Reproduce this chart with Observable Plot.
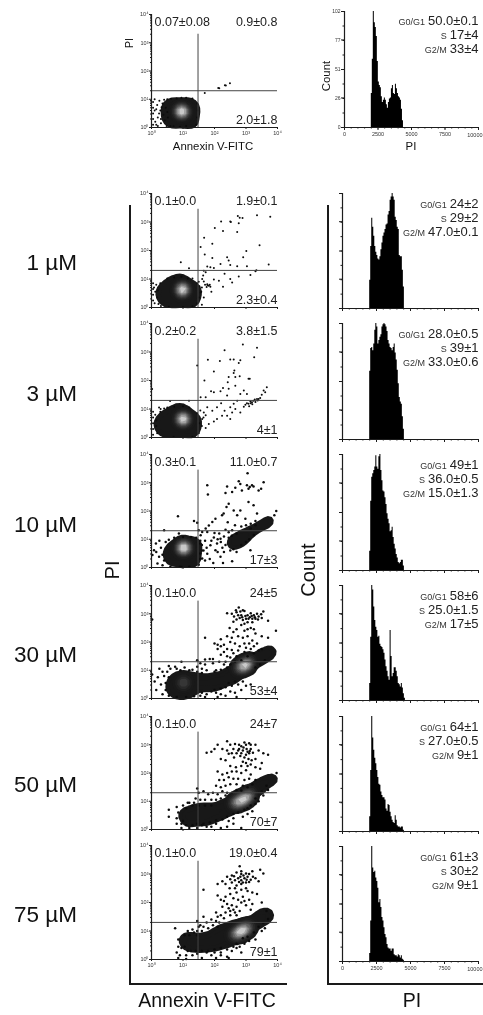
<!DOCTYPE html>
<html><head><meta charset="utf-8">
<script src="https://cdn.jsdelivr.net/npm/d3@7"></script>
<script src="https://cdn.jsdelivr.net/npm/@observablehq/plot@0.6"></script>
<style>
html,body{margin:0;padding:0;background:#fff;overflow:hidden}
#page{position:relative;width:483px;height:1015px;overflow:hidden;font-family:"Liberation Sans",Arial,sans-serif;color:#111;filter:blur(.4px)}
#page svg{position:absolute;background:transparent;overflow:hidden}
.lab{position:absolute;white-space:nowrap;line-height:1}
.brk{position:absolute;border-left:2px solid #1a1a1a;border-bottom:2px solid #1a1a1a}
</style></head><body><div id="page"></div>
<script>
// Dose labels and quadrant percentages (upper-left, upper-right, lower-right)
const doses=["1 µM","3 µM","10 µM","30 µM","50 µM","75 µM"];
const quadUL=["0.07±0.08","0.1±0.0","0.2±0.2","0.3±0.1","0.1±0.0","0.1±0.0","0.1±0.0"];
const quadUR=["0.9±0.8","1.9±0.1","3.8±1.5","11.0±0.7","24±5","24±7","19.0±0.4"];
const quadLR=["2.0±1.8","2.3±0.4","4±1","17±3","53±4","70±7","79±1"];
// Cell-cycle percentages
const phaseG1=["50.0±0.1","24±2","28.0±0.5","49±1","58±6","64±1","61±3"];
const phaseS=["17±4","29±2","39±1","36.0±0.5","25.0±1.5","27.0±0.5","30±2"];
const phaseG2=["33±4","47.0±0.1","33.0±0.6","15.0±1.3","17±5","9±1","9±1"];
// Tick labels
const logTicks=[1,10,100,1000,10000];
const logLabels=["10⁰","10¹","10²","10³","10⁴"];
const piTicks=[0,2500,5000,7500];
const piLast=10000;
const countTicks=[0,26,51,77,102];
const gateAnnexin=30, gatePI=20;
// DNA histograms: counts in successive PI channels, first channel and channel width
const histStart=2000, histWidth=75;
const hist0=[30,60,102,92,88,80,58,40,37,35,27,22,24,26,24,20,17,22,25,26,34,37,30,29,38,34,30,27,26,24,16,6,0];
const hist1=[25,55,80,72,64,55,50,47,44,43,46,52,58,64,67,70,74,75,83,86,96,99,102,99,96,81,78,72,70,47,46,46,34,19,0];
const hist2=[60,80,81,78,84,96,102,99,84,87,90,92,99,101,102,101,99,95,87,84,81,80,78,81,84,76,70,61,49,37,33,31,20,9,0];
const hist3=[17,61,82,85,88,91,101,91,89,100,102,88,79,70,69,64,58,50,45,41,34,35,38,29,23,19,14,11,7,6,7,9,9,4,0];
const hist4=[15,56,102,98,83,71,65,62,56,57,50,48,47,45,42,36,30,26,21,18,62,39,21,24,29,29,26,21,15,14,12,15,11,6,2];
const hist5=[13,54,102,83,72,65,60,54,48,42,41,35,32,30,30,28,20,18,24,23,17,13,10,8,7,14,10,5,4,4,3,4,4,1,0];
const hist6=[7,36,102,83,79,80,74,71,65,52,55,48,39,36,30,24,21,15,12,11,11,9,11,11,6,5,5,4,6,5,3,5,2,1,0];
const hists=[hist0,hist1,hist2,hist3,hist4,hist5,hist6];
// Flow-cytometry events, as [log10 Annexin V-FITC, log10 PI].
// "cloud": dense population outline; "core": brightest part of it; "dots": single events.
const cloud0=[[.45,.25],[.45,.55],[.45,.8],[.6,.2],[.6,.5],[.6,.8],[.78,.15],[.78,.4],[.78,.65],[.78,.88],[1,.15],[1,.4],[1,.65],[1,.9],[1.22,.15],[1.22,.4],[1.22,.65],[1.22,.88],[1.38,.2],[1.38,.5],[1.38,.75]];
const core0=[[.88,.55],[.95,.6],[1.05,.55],[.95,.5],[1,.62],[.92,.62]];
const dots0=[[1.69,1.22],[2.12,1.4],[2.15,1.39],[2.33,1.5],[2.36,1.49],[2.49,1.57],[.05,.1],[.05,.3],[.05,.5],[.05,.7],[.05,.9],[.1,1],[.1,.6],[.12,.2],[.18,.8],[.2,.35],[.25,.95],[.28,.6],[.3,.15],[.35,.85],[.38,.45],[.4,.98],[.42,.25],[.45,.7],[.5,1],[.48,.05],[.2,.05],[.62,1.02],[.8,1.03],[1.1,1.05],[1.3,1.03],[.7,.04],[1.1,.05],[.32,.72],[.24,.5],[.15,.1],[.52,.35],[.5,.55],[.3,.3],[.15,.65],[1.45,.35],[1.47,.6],[1.45,.85],[1.42,.1],[.95,1.05],[.6,.05],[.9,.03]];
const cloud1=[[.4,.12],[.65,.12],[.9,.12],[1.15,.12],[1.35,.15],[.3,.35],[.5,.35],[.72,.35],[.95,.35],[1.18,.35],[1.38,.35],[.25,.6],[.45,.6],[.68,.6],[.9,.6],[1.12,.6],[1.35,.6],[1.45,.62],[.42,.8],[.62,.82],[.85,.82],[1.08,.82],[1.28,.8],[.68,.95],[.88,.97],[1.05,.95]];
const core1=[[.9,.6],[.98,.66],[1.06,.6],[.98,.55],[1.02,.68],[.94,.66]];
const dots1=[[.93,1.59],[1.19,1.38],[1.56,2.12],[1.67,2.45],[1.93,2.24],[1.69,1.86],[1.93,1.74],[2.01,2.79],[2.21,3.02],[2.27,2.68],[2.5,3.02],[2.52,3],[2.74,3.21],[2.8,3.15],[2.89,3.14],[2.72,2.65],[2.77,2.96],[3.35,3.24],[3.77,3.18],[3.43,2.18],[3.01,1.98],[2.91,1.76],[2.4,1.76],[2.45,1.65],[2.5,1.49],[2.72,1.45],[3.03,1.45],[3.3,1.27],[3.33,1.31],[3.72,1.51],[3.14,1.14],[2.77,1.09],[2.5,1],[2.56,.88],[2.27,.73],[2.14,.94],[1.98,.98],[2.32,1.18],[2.19,1.53],[1.98,1.39],[1.87,1.41],[1.77,1.44],[1.66,1.29],[1.72,1.24],[1.64,1.12],[1.61,1],[1.66,.91],[1.77,.82],[1.82,.76],[1.87,.73],[1.75,.72],[1.7,.8],[1.56,.53],[1.66,.35],[1.5,.9],[1.6,.7],[.05,.85],[.05,.65],[.05,.45],[.05,.25],[.08,.7],[.1,.15],[1.3,1.02],[1.45,.15],[1.6,.1],[1.9,.55],[.15,.8],[.12,.55],[.18,.35],[.2,.6],[.22,.12],[.28,.85],[.3,.05],[.5,1.02],[.72,1.05],[.95,1.08],[1.15,1.02],[1.45,.85],[1.52,.75],[1.58,.55],[1.5,.35],[1.78,.78],[1.85,.8],[.55,.03],[1,.02],[1.3,.04]];
const cloud2=[[.35,.12],[.6,.12],[.9,.12],[1.15,.12],[1.35,.15],[.22,.35],[.45,.35],[.72,.35],[.95,.35],[1.18,.35],[1.38,.35],[.2,.6],[.42,.6],[.68,.6],[.9,.6],[1.12,.6],[1.35,.6],[1.45,.6],[.35,.8],[.62,.82],[.85,.84],[1.08,.84],[1.28,.8],[.68,.97],[.88,.99],[1.05,.97]];
const core2=[[.92,.62],[1,.68],[1.08,.62],[1,.56],[1.04,.7],[.96,.7]];
const dots2=[[2.9,3.26],[3.35,3.15],[2.32,3.06],[3.26,2.82],[1.79,2.73],[2.17,2.68],[2.5,2.74],[2.61,2.74],[2.82,2.71],[2.77,2.61],[1.98,2.32],[2.63,2.35],[2.61,2.26],[2.45,2.12],[2.66,2.12],[2.8,2.15],[3.08,2.06],[3.12,2.06],[1.68,2],[2.42,1.94],[1.45,2.53],[2.66,1.82],[2.93,1.65],[3.03,1.53],[2.45,1.71],[2.27,1.74],[2.19,1.62],[1.98,1.59],[1.89,1.62],[1.56,1.41],[1.72,1.41],[2.4,1.47],[2.82,1.53],[3.66,1.76],[3.56,1.65],[3.35,1.35],[3.19,1.24],[3.08,1.18],[2.98,1.15],[2.93,1.08],[3.03,1.2],[3.14,1.26],[3.24,1.29],[3.45,1.39],[3.4,1.35],[3.61,1.59],[3.3,1.25],[3.1,1.1],[3.2,1.17],[2.66,1],[2.56,.88],[2.4,.76],[2.5,.65],[2.24,.76],[2.08,.65],[1.98,.56],[1.82,.47],[1.72,.33],[1.61,.65],[1.66,.88],[1.77,1.06],[1.93,.94],[2.08,1.06],[2.21,1.2],[2.32,.94],[2.5,1.06],[2.82,.88],[2.61,1.18],[2.72,1.29],[.59,1.28],[1.19,1.29],[.29,1],[.24,1.05],[.05,.9],[.05,.7],[.05,.5],[.05,.3],[.05,.1],[.02,1.7],[1.55,.95],[1.6,.4],[1.5,.15],[.12,.8],[.15,.6],[.15,.4],[.18,.15],[.28,.9],[.5,1.05],[.72,1.08],[1,1.1],[1.2,1.05],[1.45,.85],[1.52,.5],[1.65,.7],[1.72,.78],[.4,1.02],[3.15,1.2],[3.28,1.33],[3.37,1.3],[3.5,1.5],[1.3,.03],[.7,.03]];
const cloud3=[[.55,.2],[.75,.2],[1,.18],[1.25,.18],[1.42,.2],[.5,.45],[.72,.42],[1,.42],[1.25,.42],[1.45,.42],[.52,.7],[.72,.72],[1,.72],[1.25,.72],[1.45,.72],[.8,.93],[1,.95],[1.25,.93],[1.42,.9],[2.5,.85],[2.62,.92],[2.75,1],[2.9,1.1],[3.05,1.2],[3.2,1.3],[3.35,1.4],[3.5,1.5],[3.65,1.6],[3.78,1.7],[2.7,.88],[2.95,1.02]];
const core3=[[.97,.68],[1.05,.72],[1.12,.66],[1,.64],[1.08,.76],[.92,.72]];
const dots3=[[3.05,3.34],[2.77,3.05],[2.82,2.96],[3.03,2.91],[3.12,2.85],[3.19,2.91],[3.08,2.79],[3.24,2.87],[3.56,3.02],[3.4,2.73],[3.48,2.79],[2.87,2.73],[2.66,2.82],[2.56,2.67],[2.4,2.87],[2.35,2.64],[1.77,2.91],[1.79,2.58],[3.08,2.32],[3.24,2.2],[2.45,2.26],[2.38,2.14],[2.29,1.91],[2.24,1.85],[2.61,2.02],[2.72,1.85],[2.82,2.02],[2.98,1.73],[3.35,1.91],[3.96,2],[.84,1.81],[1.35,1.65],[1.45,1.58],[2.03,1.73],[1.93,1.61],[1.82,1.49],[1.72,1.38],[1.61,1.26],[1.5,1.32],[1.56,1.14],[1.77,1.26],[1.98,1.06],[2.19,1.02],[2.08,.85],[1.87,.79],[2.03,.61],[1.77,.49],[1.61,.32],[1.96,.16],[2.27,.16],[2.56,.22],[3.14,.61],[2.19,.38],[2.35,1.34],[2.56,1.32],[.4,1.32],[.87,1.2],[.14,.85],[.08,.61],[.24,.38],[.19,.14],[.03,.44],[2.3,1.1],[2.2,.9],[2.1,1],[1.7,.95],[1.6,.8],[1.75,.7],[1.9,.95],[2.35,.8],[2.25,.7],[2.1,.55],[2.3,.55],[1.65,.6],[1.55,.95],[1.55,.5],[1.7,.25],[1.85,.3],[2.42,1.6],[2.65,1.5],[2.85,1.45],[3,1.5],[3.15,1.55],[3.3,1.65],[2.6,.65],[2.5,.6],[2.7,.55],[2.15,1.2],[2,1.22],[2.45,1.25],[.3,.7],[.25,.95],[.15,.55],[.95,.02],[.6,.03],[.35,.45],[.4,.25],[.45,.9],[.55,.98],[.72,1.05],[1,1.08],[1.25,1.08],[1.42,1.05],[1.55,.85],[1.6,.6],[1.55,.3],[1.5,.1],[1.2,.03],[2.45,1.05],[2.55,1.12],[2.7,1.2],[2.85,.8],[3,.9],[3.1,1],[3.25,1.15],[3.15,1.38],[3.3,1.5],[3.9,1.85],[.9,.03],[.35,.08]];
const cloud4=[[.65,.25],[.85,.2],[1.05,.2],[1.28,.2],[.62,.5],[.82,.5],[1.05,.5],[1.3,.5],[1.5,.5],[.78,.75],[.98,.78],[1.2,.75],[1.45,.7],[1.7,.62],[1.95,.65],[2.1,.65],[2.2,.6],[2.35,.72],[2.48,.88],[2.6,.95],[2.7,.85],[2.85,1],[2.95,1.15],[3.05,1.05],[3.2,1.25],[3.3,1.38],[3.45,1.42],[3.55,1.52],[3.7,1.6],[3.82,1.68],[2,.5],[1.75,.48],[2.5,.72]];
const core4=[[2.75,1.05],[2.85,1.12],[2.95,1.18],[3.05,1.22],[3.15,1.32],[1.05,.58],[.98,.55]];
const dots4=[[2.77,3.22],[2.9,3.12],[2.4,3.02],[2.55,3],[2.7,3.05],[2.85,2.95],[2.95,3.1],[3.05,2.95],[3.15,3.02],[3.25,2.95],[3.35,3],[3.48,2.98],[3.55,3.08],[2.7,2.8],[2.8,2.85],[2.9,2.78],[3,2.82],[3.05,2.7],[3.12,2.88],[3.2,2.82],[3.3,2.82],[3.4,2.9],[3.5,2.85],[3.7,2.75],[3.95,2.4],[2.85,2.6],[3.05,2.45],[3.15,2.5],[3.3,2.3],[3.5,2.2],[3.7,2.15],[2.6,2.35],[2.75,2.2],[2.9,2.15],[3.05,2.2],[3.2,2.05],[3.35,1.95],[1.7,2.15],[2,1.95],[2.1,1.75],[2.2,1.85],[2.3,1.9],[2.4,1.75],[2.5,2],[2.65,1.95],[2.8,1.85],[3,1.8],[3.15,1.75],[2.1,1.9],[2.55,1.72],[2.3,1.65],[1.7,1.38],[1.85,1.4],[1.95,1.4],[1.95,1.25],[2.15,1.3],[2.35,1.3],[2.5,1.45],[2.7,1.5],[1.45,1.35],[.95,1.3],[.55,1.15],[.35,.95],[.25,1.05],[.1,.6],[.15,.3],[.2,.75],[.3,.5],[.35,.15],[.4,.8],[.5,.95],[.6,1.05],[.8,1.05],[1.05,1.1],[1.3,1.02],[1.45,1.12],[1.6,1.05],[1.75,1],[2,.95],[2.2,1.02],[2.4,1.1],[.02,.85],[.02,2.8],[1.6,.2],[1.75,.15],[1.9,.25],[2.05,.2],[2.2,.15],[2.35,.1],[2.5,.25],[2.65,.2],[2.85,.3],[3,.45],[3.15,.5],[1.7,.05],[2.1,.05],[2.7,.05],[2.35,.4],[2.55,.45],[2.75,.5],[2.62,2.9],[2.75,2.95],[2.88,2.88],[2.98,2.92],[3.08,2.82],[3.18,2.92],[3.28,2.88],[3.38,2.8],[2.68,3.12],[2.82,3.08],[2.6,2.72],[2.95,2.65],[3.2,2.7],[2.48,2.5],[2.7,2.45],[2.95,2.4],[3.25,2.45],[2.55,2.15],[2.4,2.2],[2.2,2.1],[2.95,1.95],[3.1,1.95],[3.25,1.85],[2.95,1.65],[2.75,1.7],[2.6,1.6],[2.4,1.5],[2.2,1.55],[1.7,1.2],[1.55,1.25],[1.6,.9],[1.45,.95],[.75,1.12],[.92,1],[1.2,1],[.45,.3],[.45,.55],[.55,.75],[.55,.1],[.8,.05],[1.1,.05],[1.35,.08],[1.55,.1],[2.9,.6],[2.65,.6],[2.45,.55],[2.2,.35],[2,.3],[2.05,1],[2.3,1.2],[2.5,1.2],[2.65,1.3],[2.85,1.35],[3.05,1.5],[3.25,1.6],[3.4,1.7],[3.5,1.75],[3.3,1.1],[3.45,1.2],[3.6,1.35]];
const cloud5=[[1,.5],[1.12,.38],[1.25,.3],[1.18,.6],[1.32,.55],[1.45,.42],[1.6,.35],[1.7,.5],[1.85,.38],[1.45,.7],[1.6,.68],[1.8,.68],[2,.5],[2,.72],[2.2,.55],[2.2,.78],[2.4,.65],[2.4,.92],[2.6,.75],[2.6,1.02],[2.8,.88],[2.8,1.15],[3,1.02],[3,1.28],[3.2,1.22],[3.2,1.42],[3.4,1.42],[3.4,1.58],[3.6,1.62],[3.75,1.75],[3.88,1.82]];
const core5=[[2.72,.98],[2.82,1.02],[2.95,1.1],[3.05,1.15],[2.58,.9],[3.18,1.28]];
const dots5=[[2.4,3.12],[2.1,3],[2.5,3],[2.65,3.03],[2.85,2.95],[3,3],[3.15,3],[3.3,3],[1.75,2.72],[1.9,2.75],[2,2.85],[2.25,2.85],[2.4,2.8],[2.6,2.85],[2.75,2.8],[2.9,2.8],[3.05,2.75],[3.15,2.85],[3.4,2.8],[3.7,2.65],[2.55,2.7],[2.7,2.7],[2.85,2.7],[3,2.65],[3.1,2.7],[2.2,2.5],[2.35,2.45],[2.9,2.4],[3,2.35],[3.15,2.3],[3.3,2.2],[3.45,2.15],[3.5,2.35],[3.3,2.5],[2.1,2.05],[2.25,1.95],[2.4,2],[2.55,2.05],[2.7,2.05],[2.85,2],[3,2.1],[3.15,1.95],[2.15,1.75],[2.3,1.75],[2.45,1.85],[2.6,1.8],[2.75,1.8],[2.95,1.75],[3.1,1.8],[3.3,1.75],[3.97,2],[2.05,1.55],[2.2,1.5],[2.35,1.55],[2.5,1.6],[2.7,1.6],[2.9,1.55],[1.45,1.45],[1.5,1.3],[1.65,1.35],[1.8,1.25],[1.95,1.3],[2.1,1.25],[2.25,1.35],[2.4,1.3],[1.4,1.1],[1.55,1.05],[1.7,1.05],[1.9,1.05],[2.05,1.05],[2.2,1.1],[1.2,.95],[1.3,.85],[.8,.4],[.85,.6],[.55,.7],[.55,.45],[.8,.2],[.95,.2],[.8,.8],[1,.85],[1.1,.75],[.95,.05],[1.2,.05],[1.45,.05],[1.6,.15],[1.75,.1],[1.9,.1],[2.05,.2],[2.2,.05],[2.4,.1],[2.6,.2],[2.85,.05],[2.45,.3],[2.6,.4],[2.9,.45],[3.05,.55],[3.2,.65],[3.4,1],[3.55,1.2],[3.7,1.4],[3.05,.75],[3.3,.9],[2.78,2.85],[2.92,2.9],[3.02,2.85],[3.12,2.78],[3.22,2.72],[2.82,2.6],[2.95,2.55],[3.08,2.5],[3.18,2.45],[2.62,2.55],[2.45,2.68],[2.78,3],[2.95,3.08],[3.1,3.05],[3.55,2.7],[2.5,2.25],[2.68,2.2],[2.85,2.25],[3.05,2.25],[2.35,1.2],[2.55,1.3],[2.7,1.4],[2.85,1.38],[3.05,1.5],[3.2,1.6],[1.35,.95],[1.5,.85],[1.7,.85],[1.9,.85],[1.15,.95],[1,.3],[1.1,.15],[1.3,.15],[1.45,.2],[1.65,.2],[1.85,.25],[2.05,.32],[2.25,.35],[2.4,.45],[2.6,.55],[2.75,.6],[2.95,.7],[3.15,.85],[3.3,1.1],[3.5,1.35],[3.65,1.55]];
const cloud6=[[1,.7],[1.12,.58],[1.25,.48],[1.22,.75],[1.4,.65],[1.5,.45],[1.6,.7],[1.7,.52],[1.8,.72],[1.9,.48],[2,.65],[2,.88],[2.15,.55],[2.2,.8],[2.2,1],[2.4,.62],[2.4,.85],[2.4,1.05],[2.6,.72],[2.6,.95],[2.6,1.15],[2.8,.82],[2.8,1.05],[2.8,1.25],[3,.98],[3,1.18],[3.2,1.12],[3.2,1.32],[3.4,1.3],[3.4,1.48],[3.6,1.47],[3.6,1.58],[3.7,1.58]];
const core6=[[2.72,.93],[2.82,.97],[2.92,1.02],[3.02,1.1],[2.58,.85],[3.12,1.18]];
const dots6=[[2.8,3.27],[3.55,3.02],[3.45,3.15],[3.2,3.1],[3,3.02],[2.85,3],[2.7,3.05],[2.55,2.95],[2.4,2.9],[2.1,2.65],[2.25,2.75],[2.35,2.65],[2.55,2.7],[2.7,2.6],[2.85,2.65],[3,2.7],[3.15,2.8],[3.3,2.85],[3.4,2.75],[2.75,2.85],[2.85,2.78],[2.95,2.85],[3.05,2.9],[1.65,2.45],[2.1,2.25],[2.2,2.1],[2.35,2.2],[2.5,2.3],[2.7,2.35],[2.9,2.2],[3.05,2.4],[3.2,2.35],[3.35,2.3],[3.5,2],[3.65,1.7],[2.25,1.85],[2.4,1.95],[2.55,1.9],[2.7,1.85],[2.85,2],[3,1.9],[3.15,1.75],[2.05,1.65],[2.2,1.55],[2.35,1.65],[2.5,1.7],[2.65,1.65],[2.8,1.7],[1.45,1.35],[1.55,1.2],[1.65,1.5],[1.75,1.3],[1.9,1.4],[2.05,1.35],[2.15,1.3],[1.8,1.1],[1.6,1],[1.45,1],[1.3,1.05],[1.2,.85],[.75,1.1],[.85,.7],[.85,.45],[.95,.4],[.9,.15],[.8,.25],[1.05,.85],[1.15,.3],[1.3,.15],[1.45,.2],[.85,.05],[1.1,.02],[1.6,.05],[1.75,.25],[1.9,.15],[2.05,.05],[2.2,.25],[2.4,.1],[2.55,.3],[2.7,.4],[2.8,.45],[2.95,.55],[2.85,.25],[3.1,.65],[3.3,.7],[3.5,1],[3.6,1.1],[2.45,.05],[2.2,.4],[2,.25],[2.82,2.9],[2.92,2.95],[3.02,2.8],[2.78,2.72],[2.9,2.7],[3.1,2.72],[3.22,2.9],[2.65,2.78],[2.62,2.92],[2.5,2.82],[2.85,3.1],[3.1,3],[2.48,2.5],[2.65,2.5],[2.85,2.45],[3,2.5],[2.6,2.15],[2.75,2.1],[2.95,2.05],[3.1,2.1],[3.2,1.95],[2.3,2.05],[2.45,1.8],[2.6,1.75],[2.1,1.5],[2.3,1.45],[2.5,1.55],[2.7,1.55],[1.95,1.2],[2.1,1.15],[1.65,1.15],[1.5,1.15],[1.35,.95],[1.45,.85],[1.15,1],[1.05,.45],[1.1,.15],[1.25,.3],[1.4,.3],[1.6,.3],[1.8,.3],[2,.35],[2.2,.15],[2.4,.35],[2.6,.45],[2.7,.55],[2.9,.75],[3.05,.8],[3.25,.95],[3.4,1.15],[3.55,1.28],[3.7,1.42]];
const clouds=[cloud0,cloud1,cloud2,cloud3,cloud4,cloud5,cloud6];
const cores=[core0,core1,core2,core3,core4,core5,core6];
const events=[dots0,dots1,dots2,dots3,dots4,dots5,dots6];

// Page layout (panel tops/bottoms in page pixels)
const scatterBox=[[14,127],[193,307],[323,437],[454,567],[585,698],[716,829],[845,959]];
const histBox=[[11,127],[193,308],[323,439],[454,570],[585,700],[716,831],[846,961]];
const page=document.getElementById("page");
const font='"Liberation Sans",Arial,sans-serif';
const ink="#1c1c1c";
const measure=document.createElement("canvas").getContext("2d");
function textWidth(s,size){measure.font=size+"px "+font;return measure.measureText(s).width;}
function place(svg,left,top){svg.style.left=left+"px";svg.style.top=top+"px";page.appendChild(svg);}
function fromLog(p){return 10**p;}
function minor(){const t=[];for(const d of [1,10,100,1000])for(let k=2;k<10;k++)t.push(d*k);return t;}
const logText=d=>logLabels[logTicks.indexOf(+d)];

function scatter(i,showX){
  const [top,bottom]=scatterBox[i];
  const L=151,R=277,mL=22,mR=6,mT=5,mB=showX?14:3;
  const big=12.5, ty=v=>v-0.71*big;
  const plot=Plot.plot({
    width:R-L+mL+mR,height:bottom-top+mT+mB,
    marginLeft:mL,marginRight:mR,marginTop:mT,marginBottom:mB,
    style:{fontFamily:font,background:"transparent"},
    x:{type:"log",domain:[1,10000],axis:null},
    y:{type:"log",domain:[1,10000],axis:null},
    color:{type:"pow",exponent:2.2,range:["#181818","#c9c9c9"]},
    marks:[
      Plot.density(clouds[i],{x:d=>fromLog(d[0]),y:d=>fromLog(d[1]),bandwidth:3,thresholds:i>=4?4:3,fill:"#181818",stroke:"none"}),
      Plot.density(cores[i],{x:d=>fromLog(d[0]),y:d=>fromLog(d[1]),bandwidth:3.8,thresholds:10,fill:"density",stroke:"none"}),
      Plot.dot(events[i],{x:d=>fromLog(d[0]),y:d=>fromLog(d[1]),r:i<3?1:1.25,fill:"#0c0c0c",stroke:"none"}),
      Plot.ruleX([gateAnnexin],{y1:1,y2:i==0?2000:2800,stroke:"#444",strokeWidth:1}),
      Plot.ruleY([gatePI],{x1:1,x2:10000,stroke:"#444",strokeWidth:1}),
      Plot.axisY({ticks:logTicks,tickSize:2,tickFormat:logText,fontSize:5.5,tickPadding:1,fill:"#333",stroke:ink,label:null}),
      Plot.axisY({ticks:minor(),tickSize:1,tickFormat:null,text:null,label:null,stroke:ink}),
      Plot.axisX({ticks:logTicks,tickSize:2,tickFormat:showX?logText:(()=>""),fontSize:5.5,tickPadding:2,fill:"#333",stroke:ink,label:null}),
      Plot.axisX({ticks:minor(),tickSize:1,tickFormat:null,text:null,label:null,stroke:ink}),
      Plot.ruleX([1],{stroke:ink,strokeWidth:1.2}),
      Plot.ruleY([1],{stroke:ink,strokeWidth:1.2}),
      Plot.text([quadUL[i]],{text:d=>d,frameAnchor:"top-left",lineAnchor:"top",dx:3,dy:ty(11),fontSize:big,fill:"#222"}),
      Plot.text([quadUR[i]],{text:d=>d,frameAnchor:"top-right",lineAnchor:"top",dy:ty(11),fontSize:big,fill:"#222"}),
      Plot.text([quadLR[i]],{text:d=>d,frameAnchor:"bottom-right",lineAnchor:"bottom",dy:-4,fontSize:big,fill:"#222"})
    ]});
  place(plot,L-mL,top-mT);
}

function histogram(i,showX){
  const [top,bottom]=histBox[i];
  const L=i==0?344:342,R=478,mL=16,mR=5,mT=4,mB=showX?13:3;
  const rows=hists[i].map((n,k)=>({channel:histStart+k*histWidth,n}));
  rows.push({channel:histStart+hists[i].length*histWidth,n:0});
  const big=13, small=9, gap=3;
  const phases=[["G0/G1",phaseG1[i]],["S",phaseS[i]],["G2/M",phaseG2[i]]];
  const txt=[];
  phases.forEach(([name,val],k)=>{
    const base=(i==0?13:14)+k*14;
    txt.push(Plot.text([val],{text:d=>d,frameAnchor:"top-right",lineAnchor:"top",dy:base-0.71*big,fontSize:big,fill:"#222"}));
    txt.push(Plot.text([name],{text:d=>d,frameAnchor:"top-right",lineAnchor:"top",dx:-textWidth(val,big)-gap,dy:base-0.71*small,fontSize:small,fill:"#333"}));
  });
  const xMinor=d3.range(0,10001,500), yMinor=d3.range(0,103,12.75);
  const plot=Plot.plot({
    width:R-L+mL+mR,height:bottom-top+mT+mB,
    marginLeft:mL,marginRight:mR,marginTop:mT,marginBottom:mB,
    style:{fontFamily:font,background:"transparent"},
    x:{domain:[0,10000],axis:null},
    y:{domain:[0,102],axis:null},
    marks:[
      Plot.areaY(rows,{x:"channel",y:"n",curve:"step-after",fill:"#000"}),
      Plot.axisY({ticks:yMinor,tickSize:1.5,tickFormat:null,text:null,label:null,stroke:ink}),
      Plot.axisY({ticks:countTicks,tickSize:3,tickFormat:i==0?(d=>String(d)):(()=>""),fontSize:5,tickPadding:1,fill:"#333",stroke:ink,label:null}),
      Plot.axisX({ticks:xMinor,tickSize:1.5,tickFormat:null,text:null,label:null,stroke:ink}),
      Plot.axisX({ticks:[...piTicks,piLast],tickSize:3,tickFormat:d=>(showX&&d<piLast)?String(d):"",fontSize:5.5,tickPadding:2,fill:"#333",stroke:ink,label:null}),
      ...(showX?[Plot.text([piLast],{x:d=>d,text:d=>String(d),frameAnchor:"bottom",lineAnchor:"bottom",textAnchor:"end",dx:4,dy:9.5,fontSize:5.5,fill:"#333"})]:[]),
      Plot.ruleX([0],{stroke:ink,strokeWidth:1.2}),
      Plot.ruleY([0],{stroke:ink,strokeWidth:1.2}),
      ...txt
    ]});
  place(plot,L-mL,top-mT);
}

function label(text,x,baseline,size,opts={}){
  const d=document.createElement("div");d.className="lab";d.textContent=text;
  d.style.fontSize=size+"px";
  if(opts.rotate){d.style.left=x+"px";d.style.top=baseline+"px";d.style.transformOrigin="0 0";d.style.transform="rotate(-90deg) translate(-50%,0)";}
  else if(opts.center){d.style.left=x+"px";d.style.top=(baseline-0.9*size)+"px";d.style.transform="translateX(-50%)";}
  else{d.style.right=(483-x)+"px";d.style.top=(baseline-0.9*size)+"px";}
  page.appendChild(d);
}
function bracket(left,top,width,height){
  const d=document.createElement("div");d.className="brk";
  Object.assign(d.style,{left:left+"px",top:top+"px",width:width+"px",height:height+"px"});
  page.appendChild(d);
}

bracket(129,205,156,778);
bracket(327,205,156,778);
for(let i=0;i<7;i++){scatter(i,i==0||i==6);histogram(i,i==0||i==6);}
const doseBase=[272,403,534,664,794,924];
doses.forEach((d,k)=>label(d,77,doseBase[k],22.5));
label("PI",102,570,20,{rotate:true});
label("Count",298,570,20,{rotate:true});
label("Annexin V-FITC",207,1009,19.5,{center:true});
label("PI",412,1009,19.5,{center:true});
label("Annexin V-FITC",213,151,11.4,{center:true});
label("PI",411,151,11.4,{center:true});
label("PI",124,43,10.5,{rotate:true});
label("Count",321,76,11.4,{rotate:true});
</script></body></html>
